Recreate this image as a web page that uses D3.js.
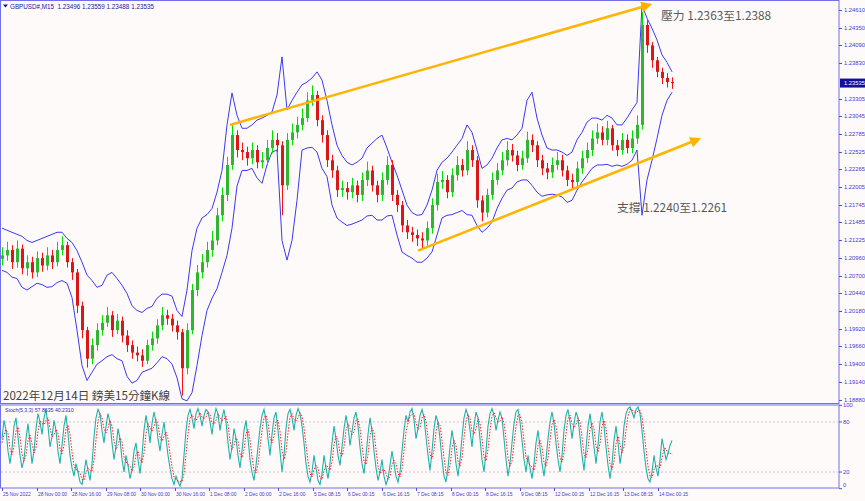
<!DOCTYPE html>
<html><head><meta charset="utf-8">
<script src="https://cdn.jsdelivr.net/npm/d3@7"></script>
<style>body{margin:0;background:#fffafa}svg{display:block}</style>
</head><body>
<svg id="c" width="865" height="501"></svg>
<script>
// ---------- DATA ----------
const symbolTitle = "GBPUSD#,M15  1.23496 1.23559 1.23488 1.23535";
const stochTitle = "Stoch(5,3,3) 57.8635 40.2310";
const chartTitle = "2022年12月14日 鎊美15分鐘K線";
const resistanceText = "壓力 1.2363至1.2388";
const supportText = "支撐 1.2240至1.2261";
const firstOpen = 1.2095;
const closes = [1.2100,1.2108,1.2090,1.2110,1.2081,1.2090,1.2075,1.2096,1.2085,1.2100,
 1.2090,1.2108,1.2115,1.2090,1.2075,1.2026,1.1990,1.1948,1.1968,1.1990,
 1.2001,1.2012,1.1990,1.2004,1.1982,1.1968,1.1957,1.1953,1.1945,1.1968,
 1.1978,1.1997,1.2012,1.2007,1.1997,1.1987,1.1934,1.1990,1.2049,1.2075,
 1.2090,1.2108,1.2122,1.2159,1.2189,1.2233,1.2277,1.2255,1.2252,1.2243,
 1.2255,1.2237,1.2240,1.2258,1.2270,1.2262,1.2203,1.2270,1.2281,1.2292,
 1.2302,1.2328,1.2336,1.2299,1.2277,1.2240,1.2225,1.2196,1.2199,1.2193,
 1.2203,1.2189,1.2211,1.2225,1.2203,1.2189,1.2211,1.2233,1.2189,1.2174,
 1.2144,1.2134,1.2130,1.2125,1.2122,1.2140,1.2174,1.2208,1.2211,1.2193,
 1.2218,1.2233,1.2225,1.2255,1.2240,1.2181,1.2163,1.2189,1.2211,1.2225,
 1.2240,1.2255,1.2247,1.2233,1.2243,1.2270,1.2262,1.2240,1.2228,1.2222,
 1.2233,1.2240,1.2225,1.2211,1.2208,1.2228,1.2243,1.2255,1.2272,1.2281,
 1.2270,1.2287,1.2262,1.2255,1.2270,1.2258,1.2272,1.2292,1.2439,1.2409,
 1.2387,1.2370,1.2361,1.2355,1.23535];
const highs = [1.2112,1.2120,1.2115,1.2122,1.2116,1.2100,1.2098,1.2106,1.2104,1.2112,
 1.2108,1.2120,1.2128,1.2120,1.2096,1.2080,1.2032,1.1995,1.1978,1.2000,
 1.2012,1.2024,1.2018,1.2014,1.2010,1.1990,1.1975,1.1966,1.1962,1.1976,
 1.1988,1.2006,1.2024,1.2020,1.2014,1.2004,1.1992,1.2000,1.2058,1.2086,
 1.2102,1.2120,1.2136,1.2170,1.2200,1.2245,1.2292,1.2284,1.2266,1.2260,
 1.2266,1.2262,1.2252,1.2270,1.2284,1.2280,1.2268,1.2280,1.2294,1.2304,
 1.2316,1.2340,1.2350,1.2342,1.2306,1.2284,1.2248,1.2232,1.2210,1.2208,
 1.2214,1.2210,1.2222,1.2238,1.2232,1.2210,1.2222,1.2246,1.2240,1.2196,
 1.2180,1.2152,1.2142,1.2138,1.2134,1.2150,1.2184,1.2220,1.2224,1.2218,
 1.2228,1.2246,1.2242,1.2268,1.2262,1.2246,1.2188,1.2198,1.2222,1.2236,
 1.2252,1.2268,1.2264,1.2254,1.2254,1.2282,1.2278,1.2268,1.2248,1.2236,
 1.2244,1.2252,1.2248,1.2232,1.2220,1.2238,1.2254,1.2266,1.2284,1.2294,
 1.2290,1.2298,1.2292,1.2270,1.2280,1.2278,1.2284,1.2306,1.2458,1.2446,
 1.2414,1.2392,1.2376,1.2368,1.2362];
const lows = [1.2085,1.2092,1.2080,1.2082,1.2072,1.2070,1.2066,1.2068,1.2076,1.2078,
 1.2080,1.2084,1.2100,1.2082,1.2064,1.2015,1.1978,1.1935,1.1940,1.1960,
 1.1982,1.1995,1.1980,1.1984,1.1972,1.1958,1.1948,1.1944,1.1936,1.1940,
 1.1960,1.1970,1.1990,1.1998,1.1988,1.1976,1.1894,1.1925,1.1984,1.2040,
 1.2066,1.2082,1.2098,1.2115,1.2150,1.2180,1.2226,1.2244,1.2240,1.2232,
 1.2234,1.2228,1.2228,1.2232,1.2250,1.2252,1.2159,1.2196,1.2262,1.2272,
 1.2284,1.2296,1.2320,1.2290,1.2266,1.2230,1.2214,1.2186,1.2186,1.2182,
 1.2184,1.2178,1.2180,1.2202,1.2194,1.2178,1.2180,1.2204,1.2180,1.2164,
 1.2134,1.2124,1.2120,1.2114,1.2110,1.2114,1.2132,1.2166,1.2198,1.2184,
 1.2186,1.2210,1.2216,1.2218,1.2230,1.2170,1.2150,1.2156,1.2182,1.2204,
 1.2218,1.2232,1.2238,1.2224,1.2226,1.2236,1.2252,1.2230,1.2218,1.2212,
 1.2214,1.2226,1.2216,1.2202,1.2198,1.2200,1.2220,1.2236,1.2246,1.2264,
 1.2262,1.2262,1.2254,1.2246,1.2248,1.2250,1.2250,1.2264,1.2285,1.2398,
 1.2376,1.2362,1.2352,1.2347,1.2345];
const upperBand = [1.2140,1.2137,1.2134,1.2131,1.2128,1.2122,1.2119,1.2122,1.2125,1.2128,
 1.2131,1.2134,1.2134,1.2125,1.2119,1.2107,1.2090,1.2071,1.2063,1.2053,
 1.2056,1.2071,1.2075,1.2066,1.2056,1.2044,1.2026,1.2019,1.2016,1.2022,
 1.2025,1.2037,1.2043,1.2043,1.2040,1.2019,1.2010,1.2049,1.2107,1.2140,
 1.2155,1.2160,1.2169,1.2193,1.2225,1.2292,1.2339,1.2306,1.2287,1.2287,
 1.2292,1.2299,1.2302,1.2306,1.2311,1.2336,1.2392,1.2314,1.2328,1.2340,
 1.2351,1.2355,1.2361,1.2370,1.2358,1.2328,1.2292,1.2262,1.2247,1.2237,
 1.2233,1.2237,1.2243,1.2258,1.2265,1.2272,1.2277,1.2258,1.2237,1.2218,
 1.2196,1.2174,1.2163,1.2159,1.2160,1.2174,1.2196,1.2225,1.2237,1.2243,
 1.2252,1.2262,1.2272,1.2292,1.2281,1.2255,1.2228,1.2233,1.2243,1.2258,
 1.2270,1.2272,1.2270,1.2277,1.2287,1.2328,1.2340,1.2302,1.2277,1.2258,
 1.2255,1.2255,1.2252,1.2247,1.2252,1.2270,1.2281,1.2296,1.2302,1.2302,
 1.2299,1.2306,1.2302,1.2292,1.2292,1.2302,1.2314,1.2325,1.2468,1.2449,
 1.2434,1.2417,1.2395,1.2384,1.2370];
const lowerBand = [1.2078,1.2075,1.2068,1.2066,1.2053,1.2049,1.2054,1.2059,1.2057,1.2053,
 1.2054,1.2060,1.2063,1.2059,1.2038,1.1990,1.1938,1.1916,1.1928,1.1940,
 1.1945,1.1951,1.1954,1.1948,1.1945,1.1922,1.1912,1.1916,1.1928,1.1931,
 1.1934,1.1942,1.1951,1.1948,1.1940,1.1920,1.1889,1.1886,1.1898,1.1938,
 1.1982,1.2019,1.2037,1.2051,1.2075,1.2100,1.2140,1.2202,1.2225,1.2225,
 1.2228,1.2214,1.2206,1.2233,1.2252,1.2255,1.2122,1.2093,1.2122,1.2181,
 1.2255,1.2258,1.2259,1.2252,1.2228,1.2216,1.2174,1.2155,1.2149,1.2144,
 1.2146,1.2149,1.2152,1.2158,1.2159,1.2152,1.2152,1.2158,1.2159,1.2130,
 1.2105,1.2100,1.2096,1.2090,1.2090,1.2096,1.2105,1.2130,1.2155,1.2159,
 1.2160,1.2163,1.2166,1.2160,1.2159,1.2144,1.2134,1.2140,1.2149,1.2169,
 1.2184,1.2196,1.2199,1.2208,1.2211,1.2211,1.2203,1.2193,1.2187,1.2189,
 1.2190,1.2189,1.2186,1.2178,1.2181,1.2196,1.2208,1.2218,1.2228,1.2233,
 1.2233,1.2234,1.2231,1.2233,1.2231,1.2234,1.2240,1.2255,1.2159,1.2211,
 1.2240,1.2272,1.2306,1.2328,1.2340];
// trend lines: [candle index, price]
const resistanceLine = [[45.6, 1.2292], [129.2, 1.2468]];
const supportLine = [[83.2, 1.2107], [139.0, 1.2270]];
const stochK = [60,82,70,45,30,48,75,85,62,40, 25,35,60,78,55,30,45,72,90,80,
 65,85,95,75,50,62,82,70,45,30, 52,75,88,66,40,25,15,30,20,8,
 5,18,35,22,10,30,62,85,95,90, 70,55,75,90,80,55,35,50,72,60,
 35,20,40,28,12,22,45,55,35,18, 40,70,88,75,55,78,92,80,60,45,
 65,80,60,40,25,12,5,15,8,3, 12,40,70,88,95,85,72,90,96,88,
 75,88,95,92,80,65,85,96,90,70, 85,95,80,55,35,50,72,60,40,25,
 45,70,82,60,35,20,10,28,50,72, 88,95,82,60,40,65,85,92,70,45,
 20,40,72,90,95,85,70,88,96,90, 75,55,30,15,8,20,40,25,10,5,
 18,40,25,12,30,55,75,60,40,28, 50,72,88,75,52,68,85,92,75,50,
 30,18,40,65,85,70,45,25,10,20, 35,15,5,12,28,45,30,15,8,20,
 45,70,88,80,92,96,82,60,72,88, 95,85,62,40,22,45,72,88,80,60,
 35,15,8,25,50,70,55,30,15,35, 62,85,95,88,70,50,75,92,85,60,
 35,20,45,75,90,96,88,70,82,92, 85,60,35,15,30,55,78,92,95,80,
 58,35,20,40,25,12,30,55,70,50, 30,15,35,60,80,92,78,55,35,20,
 40,70,88,95,80,60,78,92,85,62, 40,22,48,75,90,72,50,30,52,80,
 92,75,50,28,12,30,58,75,55,30, 45,75,90,96,98,92,85,95,98,90,
 70,45,25,12,8,20,40,25,15,35, 60,48,35,42,52,57.86];
const stochD = [55,65,71,66,48,41,51,69,74,62, 42,33,40,58,64,54,43,49,69,81,
 78,77,82,85,73,62,65,71,66,48, 42,52,72,76,65,44,27,23,22,19,
 11,10,19,25,22,21,34,59,81,90, 85,72,67,73,82,75,57,47,52,61,
 56,38,32,29,27,21,26,41,45,36, 31,43,66,78,73,69,75,83,77,62,
 57,63,68,60,42,26,14,11,9,9, 8,18,41,66,84,89,84,82,86,91,
 86,84,86,92,89,79,77,82,90,85, 82,83,87,77,57,47,52,61,57,42,
 37,47,66,71,59,38,22,19,29,50, 70,85,88,79,61,55,63,81,82,69,
 45,35,44,67,86,90,83,81,85,91, 87,73,53,33,18,14,23,28,25,13,
 11,21,28,26,22,32,53,63,58,43, 39,50,70,78,72,65,68,82,84,72,
 52,33,29,41,63,73,67,47,27,18, 22,23,18,11,15,28,34,30,18,14,
 24,45,68,79,87,89,90,79,71,73, 85,89,81,62,41,36,46,68,80,76,
 58,37,19,16,28,48,58,52,33,27, 37,61,81,89,84,69,65,72,84,79,
 60,38,33,47,70,87,91,85,80,81, 86,79,60,37,27,33,54,75,88,89,
 78,58,38,32,28,26,22,32,52,58, 50,32,27,37,58,77,83,75,56,37,
 32,43,66,84,88,78,73,77,85,80, 62,41,37,48,71,79,71,51,44,54,
 75,82,72,51,30,23,33,54,63,53, 43,50,70,87,95,95,92,91,93,94,
 86,68,47,27,15,13,23,28,27,25, 37,48,48,42,43,40.23];
const priceTicks = [1.24610,1.24350,1.24090,1.23830,1.23305,1.23045,1.22785,1.22525,1.22265,
 1.22005,1.21745,1.21485,1.21225,1.20960,1.20700,1.20440,1.20180,1.19920,1.19660,1.19400,1.19140,1.18880];
const lastPrice = 1.23535;
const stochLevels = [100, 80, 20, 0];
const timeLabels = ["25 Nov 2022","28 Nov 00:00","28 Nov 16:00","29 Nov 08:00","30 Nov 00:00",
 "30 Nov 16:00","1 Dec 08:00","2 Dec 00:00","2 Dec 16:00","5 Dec 08:15","6 Dec 00:15","6 Dec 16:15",
 "7 Dec 08:15","8 Dec 00:15","8 Dec 16:15","9 Dec 08:15","12 Dec 00:15","12 Dec 16:15","13 Dec 08:15","14 Dec 00:15"];
const barsPerLabel = 64, barsPerCandle = 9.275;

// ---------- DRAW ----------
const W = 865, H = 501;
const axisX = 839, mainTop = 1, mainBot = 403, stTop = 404.5, stBot = 488;
const svg = d3.select('#c');
svg.append('rect').attr('width', W).attr('height', H).attr('fill', '#fffafa');
const defs = svg.append('defs');
defs.append('clipPath').attr('id', 'cm').append('rect').attr('x', 1).attr('y', mainTop).attr('width', axisX - 1).attr('height', mainBot - mainTop);
defs.append('clipPath').attr('id', 'cs').append('rect').attr('x', 1).attr('y', stTop).attr('width', axisX - 1).attr('height', stBot - stTop);
defs.append('marker').attr('id', 'arr').attr('viewBox', '0 0 10 10').attr('refX', 6).attr('refY', 5)
  .attr('markerWidth', 4.2).attr('markerHeight', 4.2).attr('orient', 'auto')
  .append('path').attr('d', 'M0,0L10,5L0,10z').attr('fill', '#ffb000');

const x = d3.scaleLinear().domain([0, closes.length - 1]).range([2, 672]);
const y = d3.scaleLinear().domain([1.18880, 1.24610]).range([399.5, 10]);
const xs = d3.scaleLinear().domain([0, stochK.length - 1]).range([2, 672]);
const ys = d3.scaleLinear().domain([0, 100]).range([488.7, 405.3]);

const gm = svg.append('g').attr('clip-path', 'url(#cm)');
// bands
const bandLine = d3.line().x((d, i) => x(i)).y(d => y(d));
[upperBand, lowerBand].forEach(b => gm.append('path').attr('d', bandLine(b))
  .attr('fill', 'none').attr('stroke', '#3a3af2').attr('stroke-width', 1));
// candles
const cd = closes.map((c, i) => ({ i, o: i ? closes[i - 1] : firstOpen, h: highs[i], l: lows[i], c }));
const cg = gm.append('g');
cd.forEach(d => {
  const up = d.c >= d.o;
  const xc = Math.round(x(d.i)) + 0.5;
  cg.append('line').attr('x1', xc).attr('x2', xc).attr('y1', y(d.h)).attr('y2', y(d.l))
    .attr('stroke', up ? '#00e000' : '#ff1010').attr('stroke-width', 1);
  const top = y(Math.max(d.o, d.c)), bot = y(Math.min(d.o, d.c));
  cg.append('rect').attr('x', xc - 1.5).attr('width', 3).attr('y', top).attr('height', Math.max(1, bot - top))
    .attr('fill', up ? '#2fb52f' : '#d81818');
});
// trend lines
const tl = d3.line().x(d => x(d[0])).y(d => y(d[1]));
[resistanceLine, supportLine].forEach(l => svg.append('path').attr('d', tl(l))
  .attr('stroke', '#ffb400').attr('stroke-width', 2.6).attr('fill', 'none').attr('marker-end', 'url(#arr)'));

// frames
svg.append('rect').attr('x', 0.5).attr('y', 0.5).attr('width', axisX - 0.5).attr('height', mainBot)
  .attr('fill', 'none').attr('stroke', '#7070e8').attr('stroke-width', 1);
svg.append('rect').attr('x', 0.5).attr('y', stTop + 0.5).attr('width', axisX - 0.5).attr('height', stBot - stTop - 0.5)
  .attr('fill', 'none').attr('stroke', '#7070e8').attr('stroke-width', 1);

// price axis
const axFont = 'Liberation Sans, Arial, sans-serif';
priceTicks.forEach(v => {
  svg.append('line').attr('x1', axisX).attr('x2', axisX + 3).attr('y1', Math.round(y(v)) + 0.5).attr('y2', Math.round(y(v)) + 0.5).attr('stroke', '#5050e0');
  svg.append('text').attr('x', 844).attr('y', y(v) + 2).text(v.toFixed(5))
    .attr('font-family', axFont).attr('font-size', 5.8).attr('fill', '#3a3ad8');
});
svg.append('rect').attr('x', axisX + 1).attr('y', y(lastPrice) - 4.5).attr('width', W - axisX - 1).attr('height', 9).attr('fill', '#10109a');
svg.append('text').attr('x', 844).attr('y', y(lastPrice) + 2).text(lastPrice.toFixed(5))
  .attr('font-family', axFont).attr('font-size', 5.8).attr('fill', '#ffffff');

// stochastic
const gs = svg.append('g').attr('clip-path', 'url(#cs)');
[80, 20].forEach(v => gs.append('line').attr('x1', 1).attr('x2', axisX).attr('y1', ys(v)).attr('y2', ys(v))
  .attr('stroke', '#b8b8b8').attr('stroke-dasharray', '2,2').attr('stroke-width', 0.8));
const sl = d3.line().x((d, i) => xs(i)).y(d => ys(d));
gs.append('path').attr('d', sl(stochK)).attr('fill', 'none').attr('stroke', '#20b2aa').attr('stroke-width', 1.1);
gs.append('path').attr('d', sl(stochD)).attr('fill', 'none').attr('stroke', '#ff1a1a').attr('stroke-width', 1).attr('stroke-dasharray', '1.5,1.5');
stochLevels.forEach(v => {
  svg.append('line').attr('x1', axisX).attr('x2', axisX + 3).attr('y1', ys(v)).attr('y2', ys(v)).attr('stroke', '#5050e0');
  svg.append('text').attr('x', 843).attr('y', Math.min(ys(v) + 2, 487)).text(v)
    .attr('font-family', axFont).attr('font-size', 5.8).attr('fill', '#3a3ad8');
});
svg.append('text').attr('x', 5).attr('y', 412).text(stochTitle)
  .attr('font-family', axFont).attr('font-size', 5.2).attr('fill', '#2a2ac8');

// time axis
timeLabels.forEach((t, k) => {
  const xx = Math.round(x(k * barsPerLabel / barsPerCandle)) + 0.5;
  svg.append('line').attr('x1', xx).attr('x2', xx).attr('y1', stBot).attr('y2', stBot + 3).attr('stroke', '#5050e0');
  svg.append('text').attr('x', xx + 0.5).attr('y', 496).text(t)
    .attr('font-family', axFont).attr('font-size', 4.9).attr('fill', '#3a3ad8');
});

// header
svg.append('path').attr('d', 'M3,4.5L8,4.5L5.5,7.5z').attr('fill', '#10109a');
svg.append('text').attr('x', 10).attr('y', 8.5).text(symbolTitle).attr('xml:space', 'preserve')
  .attr('font-family', axFont).attr('font-size', 6.3).attr('fill', '#20209a');

// annotations
const cjk = '"Noto Sans CJK TC", "Noto Sans CJK SC", sans-serif';
svg.append('text').attr('x', 661).attr('y', 20).text(resistanceText)
  .attr('font-family', cjk).attr('font-size', 11.8).attr('fill', '#595959');
svg.append('text').attr('x', 617).attr('y', 212).text(supportText)
  .attr('font-family', cjk).attr('font-size', 11.8).attr('fill', '#595959');
svg.append('text').attr('x', 3).attr('y', 400).text(chartTitle)
  .attr('font-family', cjk).attr('font-size', 11.6).attr('fill', '#404040');
</script>
</body></html>
